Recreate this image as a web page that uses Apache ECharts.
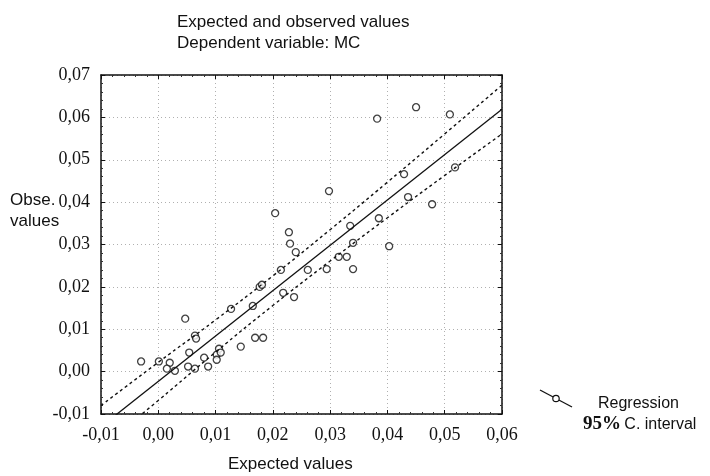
<!DOCTYPE html>
<html>
<head>
<meta charset="utf-8">
<script src="https://cdn.jsdelivr.net/npm/echarts@6/dist/echarts.min.js"></script>
<style>
  html, body { margin:0; padding:0; background:#fff; }
  #main { width:710px; height:476px; }
</style>
</head>
<body>
<div id="main"></div>
<script>
// ---- 資料 ----
const obsX = [-0.0030, 0.0001, 0.0020, 0.0015, 0.0029, 0.0047, 0.0054, 0.0052, 0.0064, 0.0066,
  0.0064, 0.0080, 0.0087, 0.0102, 0.0102, 0.0106, 0.0109, 0.0127, 0.0144, 0.0165,
  0.0169, 0.0183, 0.0177, 0.0181, 0.0214, 0.0218, 0.0237, 0.0230, 0.0240, 0.0261,
  0.0294, 0.0315, 0.0329, 0.0340, 0.0340, 0.0204, 0.0298, 0.0228, 0.0335, 0.0403,
  0.0382, 0.0450, 0.0509, 0.0429, 0.0518, 0.0436, 0.0478, 0.0385];
const obsY = [0.0024, 0.0024, 0.0021, 0.0007, 0.0002, 0.0125, 0.0045, 0.0012, 0.0085, 0.0078,
  0.0007, 0.0033, 0.0012, 0.0040, 0.0028, 0.0054, 0.0045, 0.0148, 0.0059, 0.0155,
  0.0080, 0.0080, 0.0200, 0.0205, 0.0240, 0.0186, 0.0176, 0.0302, 0.0282, 0.0240,
  0.0242, 0.0271, 0.0271, 0.0242, 0.0304, 0.0374, 0.0426, 0.0329, 0.0344, 0.0296,
  0.0597, 0.0624, 0.0607, 0.0466, 0.0482, 0.0412, 0.0395, 0.0362];

const fitX = [-0.01, 0.06];
const fitY = [-0.0130, 0.0619];

const bandX     = [-0.01,   0.00,    0.01,   0.02,   0.03,   0.04,   0.05,   0.06];
const bandUpper = [-0.0080, 0.0022,  0.0122, 0.0226, 0.0335, 0.0447, 0.0561, 0.0676];
const bandLower = [-0.0180, -0.0068, 0.0046, 0.0156, 0.0261, 0.0363, 0.0463, 0.0561];

const tickFmt = v => v.toFixed(2).replace('.', ',');

// ---- 圖表 ----
const chart = echarts.init(document.getElementById('main'));
const serif = 'Liberation Serif';
const sans = 'Liberation Sans';
const zip = (xs, ys) => xs.map((x, i) => [x, ys[i]]);

const axisCommon = {
  type:'value', interval:0.01,
  axisLine:{ show:true, onZero:false, lineStyle:{ color:'#111', width:1.5 } },
  axisTick:{ show:true, inside:true, length:4, lineStyle:{ color:'#111' } },
  minorTick:{ show:true, splitNumber:5, length:2, lineStyle:{ color:'#333' } },
  splitLine:{ show:true, lineStyle:{ color:'#b0b0b0', type:[1,3], width:1 } },
  axisLabel:{ fontFamily:serif, fontSize:18, color:'#111', formatter:tickFmt }
};

chart.setOption({
  backgroundColor:'#fff',
  animation:false,
  grid:{ left:101, right:208, top:75, bottom:62 },
  xAxis:[
    Object.assign({}, axisCommon, { min:-0.01, max:0.06, position:'bottom',
      axisLabel:Object.assign({}, axisCommon.axisLabel, { margin:12 }) }),
    Object.assign({}, axisCommon, { min:-0.01, max:0.06, position:'top',
      splitLine:{ show:false }, axisLabel:{ show:false } })
  ],
  yAxis:[
    Object.assign({}, axisCommon, { min:-0.01, max:0.07, position:'left',
      axisLabel:Object.assign({}, axisCommon.axisLabel, { margin:11 }) }),
    Object.assign({}, axisCommon, { min:-0.01, max:0.07, position:'right',
      splitLine:{ show:false }, axisLabel:{ show:false } })
  ],
  graphic:[
    { type:'text', left:177, top:12, style:{ text:'Expected and observed values\nDependent variable: MC',
      font:'17px ' + sans, fill:'#111', lineHeight:21 } },
    { type:'text', left:10, top:192, style:{ text:'Obse.', font:'17px ' + sans, fill:'#111' } },
    { type:'text', left:10, top:213, style:{ text:'values', font:'17px ' + sans, fill:'#111' } },
    { type:'text', left:228, top:456, style:{ text:'Expected values', font:'17px ' + sans, fill:'#111' } },
    // 圖例符號
    { type:'line', shape:{ x1:540, y1:390, x2:572, y2:407 }, style:{ stroke:'#111', lineWidth:1.3 } },
    { type:'circle', shape:{ cx:556, cy:398.5, r:3.2 }, style:{ fill:'#fff', stroke:'#111', lineWidth:1.2 } },
    { type:'text', left:598, top:396, style:{ text:'Regression', font:'16px ' + sans, fill:'#111' } },
    { type:'text', left:583, top:415, style:{ text:'{a|95%} {b|C. interval}', fill:'#111',
      rich:{ a:{ fontFamily:serif, fontSize:19, fontWeight:'bold' }, b:{ fontFamily:sans, fontSize:16 } } } }
  ],
  series:[
    { type:'line', data:zip(bandX, bandUpper), smooth:true, showSymbol:false, silent:true,
      lineStyle:{ color:'#111', width:1.4, type:[3,3] } },
    { type:'line', data:zip(bandX, bandLower), smooth:true, showSymbol:false, silent:true,
      lineStyle:{ color:'#111', width:1.4, type:[3,3] } },
    { type:'line', data:zip(fitX, fitY), showSymbol:false, silent:true,
      lineStyle:{ color:'#111', width:1.3 } },
    { type:'scatter', data:zip(obsX, obsY), symbol:'circle', symbolSize:7,
      itemStyle:{ color:'#fff', borderColor:'#111', borderWidth:1.3 } }
  ]
});
</script>
</body>
</html>
